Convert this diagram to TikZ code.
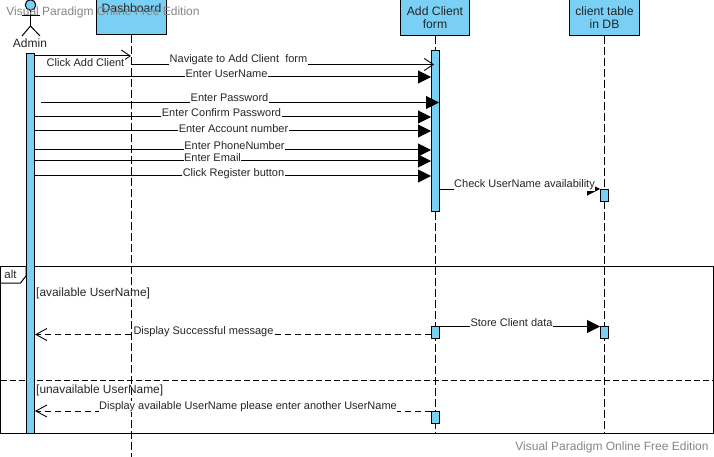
\documentclass[tikz,border=0pt]{standalone}
\usepackage{fontspec}
\setmainfont{Liberation Sans}
\usetikzlibrary{arrows.meta,positioning,calc}
\definecolor{barblue}{HTML}{7ACFF5}
\definecolor{marktext}{HTML}{858585}
\definecolor{inktext}{HTML}{262626}
\tikzset{
  lifebox/.style={draw, line width=1pt, fill=barblue, minimum width=69.5pt, minimum height=35.5pt, inner sep=0pt, align=center, text=inktext, font=\fontsize{12.2}{13.2}\selectfont},
  lifeline/.style={line width=1pt, dash pattern=on 8pt off 3pt},
  actbar/.style={draw, line width=1pt, fill=barblue, minimum width=8pt, inner sep=0pt},
  syncmsg/.style={line width=1pt, -{Triangle[length=13pt,width=13pt]}},
  openmsg/.style={line width=1pt, -{Straight Barb[length=9pt,width=12pt,line width=0.9pt]}},
  returnmsg/.style={line width=1pt, dash pattern=on 6pt off 4pt, -{Straight Barb[length=11pt,width=12pt,line width=0.9pt]}},
  msglabel/.style={fill=white, inner xsep=0.4pt, inner ysep=0.6pt, text=inktext, font=\fontsize{11}{12}\selectfont},
  guard/.style={anchor=west, inner sep=0pt, text=inktext, font=\fontsize{11.9}{13}\selectfont},
  watermark/.style={inner sep=0pt, text=marktext, font=\fontsize{12}{13}\selectfont}
}
\begin{document}
\begin{tikzpicture}[x=1pt, y=-1pt, line join=miter]
  \useasboundingbox (0,0) rectangle (714,457);

  % heads of the lifelines
  \node[lifebox] (dashboard) at (131.5,17) {Dashboard\\ \strut};
  \node[lifebox] (form) at (435,17.5) {Add Client\\form};
  \node[lifebox] (dbtable) at (604.5,17.5) {client table\\in DB};

  % lifelines
  \coordinate (dashboardend) at (131,457);
  \coordinate (formend) at (435,433);
  \coordinate (dbtableend) at (604.5,433);
  \draw[lifeline] (dashboard.south -| dashboardend) -- (dashboardend);
  \draw[lifeline] (form.south -| formend) -- (formend);
  \draw[lifeline] (dbtable.south -| dbtableend) -- (dbtableend);

  % actor
  \node[draw, circle, line width=1pt, fill=barblue, minimum size=10.5pt, inner sep=0pt] (head) at (30.5,5) {};
  \coordinate (hip) at (30.5,26);
  \coordinate (armleft) at (22,16);
  \coordinate (armright) at (40,16);
  \coordinate (footleft) at (22,36);
  \coordinate (footright) at (40,36);
  \draw[line width=1pt] (head) -- (hip);
  \draw[line width=1pt] (armleft) -- (armright);
  \draw[line width=1pt] (footleft) -- (hip) -- (footright);
  \node[inner sep=0pt, text=inktext, font=\fontsize{12}{13}\selectfont] (admin) at (30,43) {Admin};

  % alt frame
  \node[draw, line width=1pt, minimum width=712.5pt, minimum height=167pt, inner sep=0pt] (frame) at (357,349.5) {};
  \coordinate (tabtop) at (26,266);
  \coordinate (tabedge) at (26,276);
  \coordinate (tabcut) at (20.5,283);
  \coordinate (tabbottom) at (0.7,283);
  \draw[line width=1pt] (tabtop) -- (tabedge) -- (tabcut) -- (tabbottom);
  \node[inner sep=0pt, text=inktext, font=\fontsize{11.5}{13}\selectfont] (alt) at (10.5,274) {alt};
  \coordinate (splitleft) at (0.7,380);
  \coordinate (splitright) at (713.5,380);
  \draw[line width=1pt, dash pattern=on 6pt off 3pt] (splitleft) -- (splitright);
  \node[guard] (available) at (36,293) {[available UserName]};
  \node[guard] (unavailable) at (36,390) {[unavailable UserName]};

  % activation bars
  \node[actbar, minimum height=380pt] (adminbar) at (30.5,243.5) {};
  \node[actbar, minimum height=160pt] (formbar) at (435.5,131) {};
  \node[actbar, minimum height=12pt] (formbartwo) at (435.5,332.5) {};
  \node[actbar, minimum height=12pt] (formbarthree) at (435.5,417.5) {};
  \node[actbar, minimum height=12pt] (dbbar) at (604.5,195) {};
  \node[actbar, minimum height=12pt] (dbbartwo) at (604.5,332) {};

  % messages
  \coordinate (clickstart) at (34,56);
  \coordinate (clickend) at (131,56);
  \draw[openmsg] (clickstart) -- (clickend);
  \coordinate (navstart) at (131,64.5);
  \coordinate (navend) at (434,64.5);
  \draw[openmsg] (navstart) -- (navend);
  \foreach \name/\ypos/\xstart/\xend in {user/77/34/431, pass/102.5/41/439, confirm/117/34/431,
      account/131/34/431, phone/150/34/431, email/161/34/431, register/176/34/431,
      check/189/439/600, store/326.5/439/600} {
    \coordinate (\name start) at (\xstart,\ypos);
    \coordinate (\name end) at (\xend,\ypos);
    \draw[syncmsg] (\name start) -- (\name end);
  }
  \coordinate (okstart) at (431,334.5);
  \coordinate (okend) at (35,334.5);
  \draw[returnmsg] (okstart) -- (okend);
  \coordinate (failstart) at (431,411);
  \coordinate (failend) at (35,411);
  \draw[returnmsg] (failstart) -- (failend);

  % message labels
  \node[msglabel] (clicktext) at (85.5,63) {Click Add Client};
  \node[msglabel] (navtext) at (238.5,60) {Navigate to Add Client\ \ form};
  \node[msglabel] (usertext) at (226.5,73.5) {Enter UserName};
  \node[msglabel] (passtext) at (229.5,98) {Enter Password};
  \node[msglabel] (confirmtext) at (221.5,113) {Enter Confirm Password};
  \node[msglabel] (accounttext) at (233.5,129) {Enter Account number};
  \node[msglabel] (phonetext) at (234.5,146) {Enter PhoneNumber};
  \node[msglabel] (emailtext) at (212.5,158) {Enter Email};
  \node[msglabel] (registertext) at (233.5,174) {Click Register button};
  \node[msglabel] (checktext) at (524.5,185) {Check UserName availability};
  \node[msglabel] (storetext) at (511.5,323) {Store Client data};
  \node[msglabel] (oktext) at (203.5,332) {Display Successful message};
  \node[msglabel] (failtext) at (248,406.5) {Display available UserName please enter another UserName};

  % watermarks
  \node[watermark] (marktop) at (103,12) {Visual Paradigm Online Free Edition};
  \node[watermark] (markbottom) at (612,447.5) {Visual Paradigm Online Free Edition};
\end{tikzpicture}
\end{document}
